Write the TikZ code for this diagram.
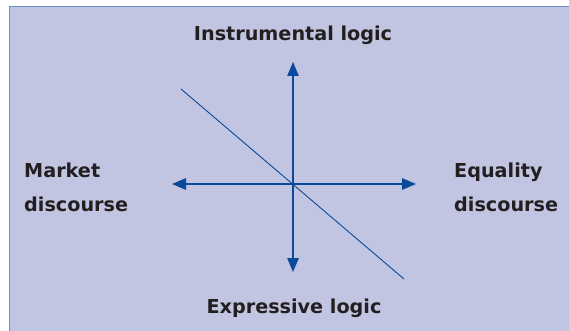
\documentclass[tikz,border=0pt]{standalone}
\usepackage{fontspec}
\setmainfont{DejaVu Sans}
\usetikzlibrary{arrows.meta}
\definecolor{panelfill}{HTML}{C1C5E1}
\definecolor{paneledge}{HTML}{6F8CC8}
\definecolor{axisblue}{HTML}{0B4A9A}
\definecolor{labelgray}{HTML}{231F20}
\begin{document}
\begin{tikzpicture}[x=1pt, y=-1pt,
  every node/.style={font=\bfseries\fontsize{19.2}{34}\selectfont, text=labelgray, inner sep=0pt},
  axis/.style={draw=axisblue, line width=1.3pt, -{Triangle[length=14pt,width=11.5pt]}}]
  \useasboundingbox (0,0) rectangle (569,331);
  % panel
  \draw[fill=panelfill, draw=paneledge, line width=1.3pt] (9.5,6.5) rectangle (580,340);
  % centre and axis ends
  \coordinate (origin) at (293,184);
  \coordinate (up) at (293,62);
  \coordinate (down) at (293,272);
  \coordinate (left) at (172,184);
  \coordinate (right) at (416,184);
  \coordinate (nw) at (181,89);
  \coordinate (se) at (404,279);
  \draw[axis] (origin) -- (up);
  \draw[axis] (origin) -- (down);
  \draw[axis] (origin) -- (left);
  \draw[axis] (origin) -- (right);
  \draw[draw=axisblue, line width=0.9pt] (nw) -- (se);
  % labels
  \node[anchor=base] (instrumental) at (293,41) {Instrumental logic};
  \node[anchor=base] (expressive) at (294,313) {Expressive logic};
  \node[anchor=base west, align=left] (market) at (24,211) {Market\\discourse};
  \node[anchor=base west, align=left] (equality) at (454,211) {Equality\\discourse};
\end{tikzpicture}
\end{document}
